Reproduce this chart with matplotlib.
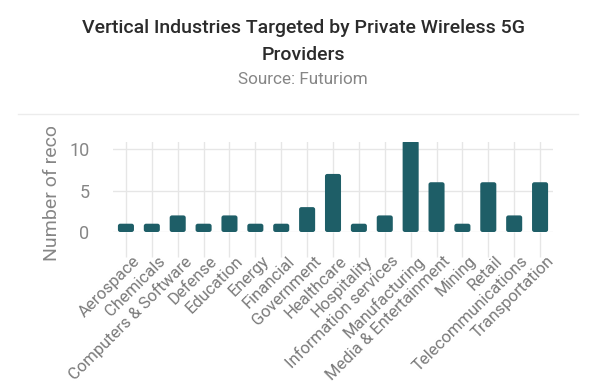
import matplotlib.pyplot as plt
from matplotlib.patches import FancyBboxPatch
from matplotlib.transforms import Bbox, ScaledTranslation

plt.rcParams['font.family'] = ['Roboto', 'DejaVu Sans']

industries = ["Aerospace", "Chemicals", "Computers & Software", "Defense",
              "Education", "Energy", "Financial", "Government", "Healthcare",
              "Hospitality", "Information services", "Manufacturing",
              "Media & Entertainment", "Mining", "Retail",
              "Telecommunications", "Transportation"]
counts = [1, 1, 2, 1, 2, 1, 1, 3, 7, 1, 2, 11, 6, 1, 6, 2, 6]
yticks = [0, 5, 10]

bar_color = "#1e5e67"
grid_color = "#e6e6e6"
text_gray = "#868686"

fig = plt.figure(figsize=(6.06, 3.88), dpi=100)
ax = fig.add_axes([113 / 606, 1 - 232 / 388, 440 / 606, 90 / 388])

x = list(range(len(industries)))
bars = ax.bar(x, counts, width=0.62, color=bar_color, linewidth=0)

# swap plain bars for slightly rounded ones
for b in bars:
    bx, by = b.get_x(), b.get_y()
    w, h = b.get_width(), b.get_height()
    b.set_visible(False)
    ax.add_patch(FancyBboxPatch((bx, by), w, h,
                                boxstyle="round,pad=0,rounding_size=0.09",
                                mutation_aspect=3.0, facecolor=bar_color,
                                edgecolor="none", zorder=3))

ax.set_xlim(-0.5, len(industries) - 0.5)
ax.set_ylim(0, 10.85)
ax.set_yticks(yticks)
ax.set_xticks(x)
ax.set_xticklabels(industries, rotation=45, ha="right", va="top",
                   rotation_mode="anchor", fontsize=12, color="#7a7a7a")
ax.tick_params(axis="x", length=18, width=1, color=grid_color, pad=3)
ax.tick_params(axis="y", length=0, pad=17, labelsize=13, labelcolor=text_gray)
shift = ScaledTranslation(0.06, 0.08, fig.dpi_scale_trans)
for lbl in ax.get_xticklabels():
    lbl.set_transform(lbl.get_transform() + shift)

ax.grid(True, color=grid_color, linewidth=1)
ax.set_axisbelow(True)
for s in ax.spines.values():
    s.set_visible(False)

ylab = fig.text(52 / 606, 1 - 261 / 388, "Number of records", rotation=90,
                ha="center", va="bottom", fontsize=14, color=text_gray)
ylab.set_clip_box(Bbox.from_extents(0, 0, 606, 388 - 127))
ylab.set_clip_on(True)

fig.text(0.5, 1 - 28 / 388, "Vertical Industries Targeted by Private Wireless 5G",
         ha="center", va="center", fontsize=14, fontweight="medium", color="#2b2b2b")
fig.text(0.5, 1 - 55 / 388, "Providers", ha="center", va="center",
         fontsize=14, fontweight="medium", color="#2b2b2b")
fig.text(0.5, 1 - 80 / 388, "Source: Futuriom", ha="center", va="center",
         fontsize=12.3, color=text_gray)
fig.add_artist(plt.Line2D([18 / 606, 578 / 606], [1 - 114 / 388, 1 - 114 / 388],
                          color="#ececec", linewidth=1))

fig.savefig("out.png", dpi=100)
